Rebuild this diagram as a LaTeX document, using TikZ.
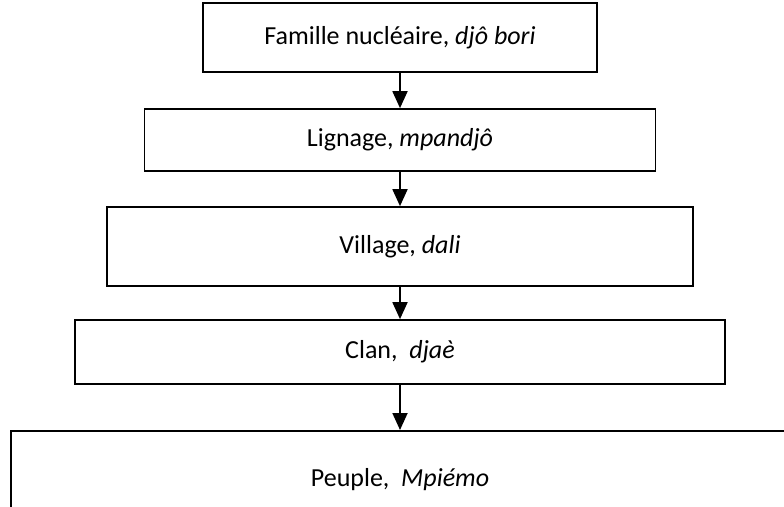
\documentclass[tikz,border=0pt]{standalone}
\usepackage{fontspec}
\setmainfont{Carlito}
\usepackage{tikz}
\usetikzlibrary{arrows.meta}

\begin{document}
\begin{tikzpicture}[x=1pt,y=1pt,
    niveau/.style={draw,line width=1.7pt,inner sep=0pt,font=\fontsize{26}{31}\selectfont},
    fleche/.style={line width=1.8pt,-{Triangle[length=17pt,width=15pt]}}]
  \useasboundingbox (0,0) rectangle (784,-506);
  \clip (0,0) rectangle (784,-506);
  \node[niveau,minimum width=394,minimum height=69] (famille) at (400,-37.5) {Famille nucléaire, \textit{djô bori}};
  \node[niveau,minimum width=511,minimum height=62] (lignage) at (400,-140) {Lignage, \textit{mpandjô}};
  \node[niveau,minimum width=586,minimum height=79] (village) at (400,-246.5) {Village, \textit{dali}};
  \node[niveau,minimum width=650,minimum height=64] (clan) at (400,-352) {Clan,\ \ \textit{djaè}};
  \node[niveau,minimum width=780,minimum height=120,anchor=north west] (peuple) at (10,-430) {};
  \node[font=\fontsize{26}{31}\selectfont] (peupletxt) at (400,-480) {Peuple,\ \ \textit{Mpiémo}};
  \path[fleche]
    (famille) edge (lignage)
    (lignage) edge (village)
    (village) edge (clan)
    (clan) edge (peuple.north -| clan.south);
\end{tikzpicture}
\end{document}
